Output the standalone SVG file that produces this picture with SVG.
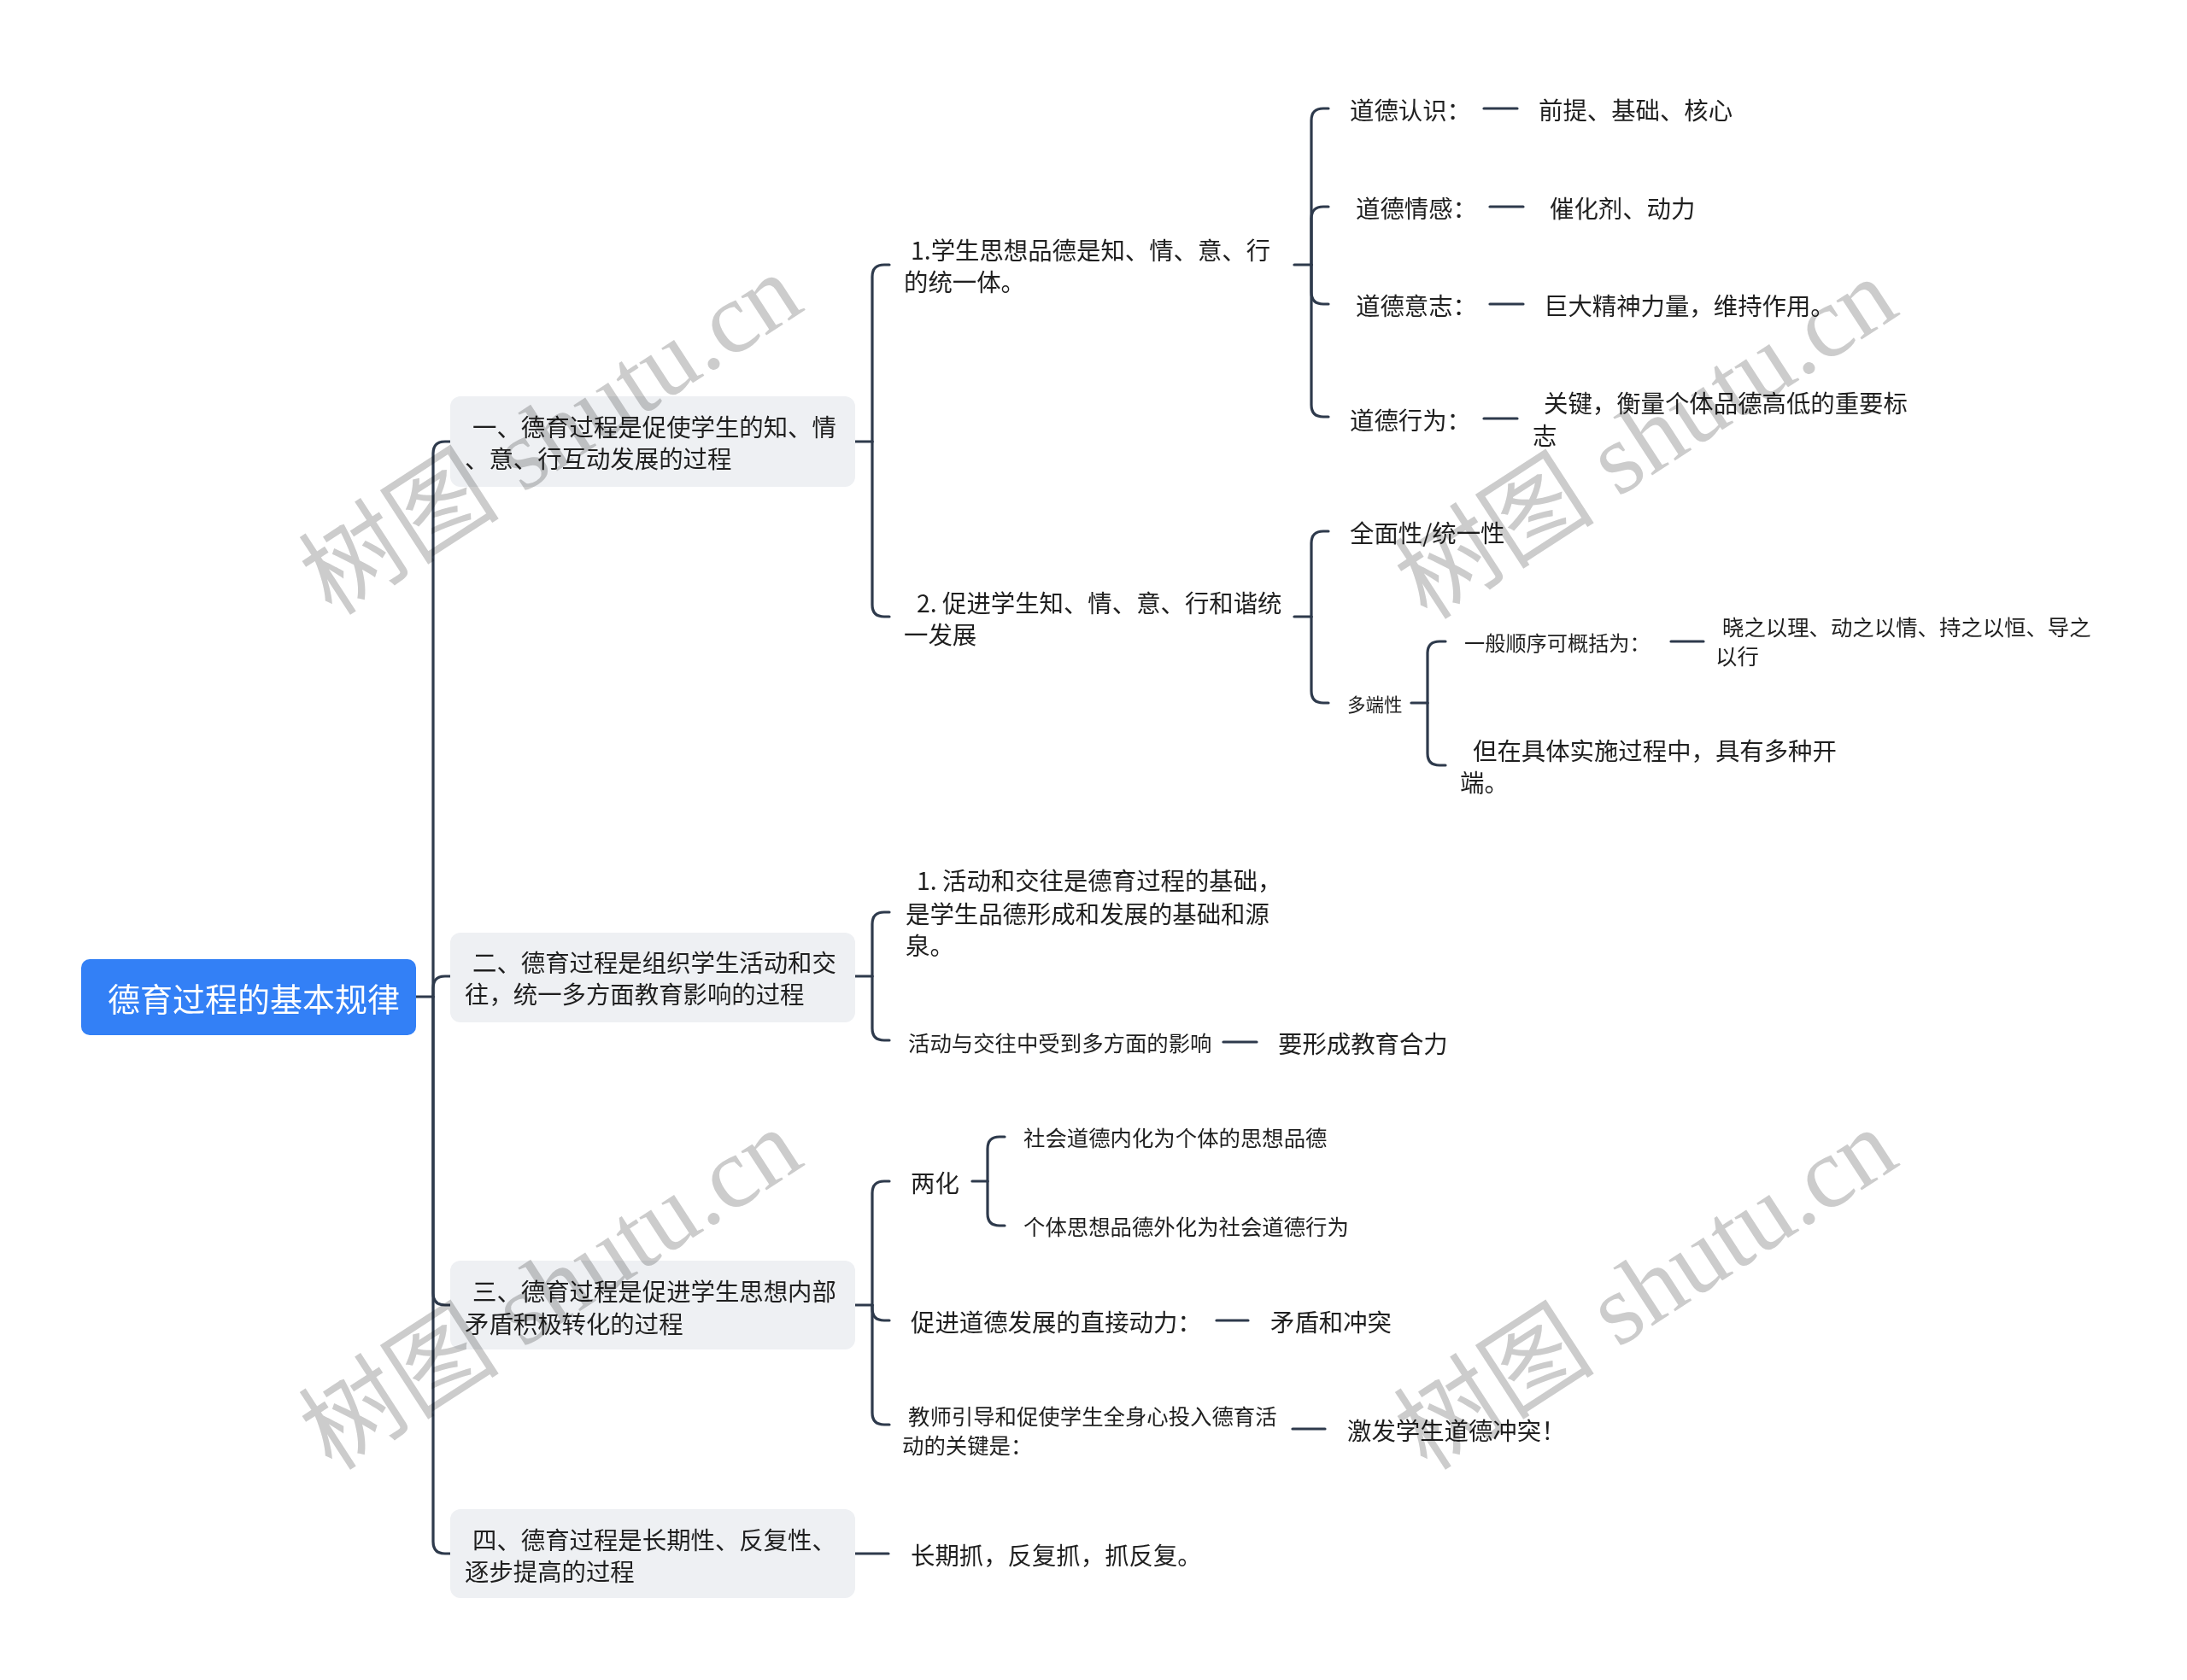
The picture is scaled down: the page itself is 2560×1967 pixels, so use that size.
<svg xmlns="http://www.w3.org/2000/svg" width="2560" height="1967" viewBox="0 0 2560 1967">
<style>
text{font-family:"Noto Sans CJK SC","Noto Sans",sans-serif;fill:#1f1f1f;dominant-baseline:central}
.t28{font-size:28.4px}
.t25{font-size:25.4px}
.t24{font-size:24.2px}
.t21{font-size:21.5px}
.root{font-size:38px;fill:#ffffff;text-anchor:middle}
.box{fill:#eef0f3}
.c path,.c line{fill:none;stroke:#2e3a4c;stroke-width:3.2;stroke-linecap:round}
.wm{font-family:"Liberation Serif","Noto Sans CJK SC",serif;font-size:118px;fill:#cccccc;text-anchor:middle;mix-blend-mode:multiply}
</style>
<rect width="2560" height="1967" fill="#ffffff"/>
<g id="connectors" class="c">
<line x1="487" y1="1167" x2="507" y2="1167"/>
<path d="M507,1167 V531 Q507,517 521,517 H527"/>
<path d="M507,1167 V1157 Q507,1143 521,1143 H527"/>
<path d="M507,1167 V1514 Q507,1528 521,1528 H527"/>
<path d="M507,1167 V1805 Q507,1819 521,1819 H527"/>
<line x1="1001" y1="517" x2="1021" y2="517"/>
<path d="M1021,517 V324 Q1021,310 1035,310 H1041"/>
<path d="M1021,517 V708 Q1021,722 1035,722 H1041"/>
<line x1="1515" y1="310" x2="1535" y2="310"/>
<path d="M1535,310 V141 Q1535,127 1549,127 H1555"/>
<path d="M1535,310 V256 Q1535,242 1549,242 H1555"/>
<path d="M1535,310 V342 Q1535,356 1549,356 H1555"/>
<path d="M1535,310 V474 Q1535,488 1549,488 H1555"/>
<line x1="1737" y1="127" x2="1776" y2="127"/>
<line x1="1744" y1="242" x2="1783" y2="242"/>
<line x1="1744" y1="356" x2="1783" y2="356"/>
<line x1="1737" y1="490" x2="1776" y2="490"/>
<line x1="1515" y1="722" x2="1535" y2="722"/>
<path d="M1535,722 V636 Q1535,622 1549,622 H1555"/>
<path d="M1535,722 V809 Q1535,823 1549,823 H1555"/>
<line x1="1652" y1="823" x2="1671" y2="823"/>
<path d="M1671,823 V765 Q1671,751 1685,751 H1692"/>
<path d="M1671,823 V882 Q1671,896 1685,896 H1692"/>
<line x1="1956" y1="751" x2="1994" y2="751"/>
<line x1="1001" y1="1143" x2="1021" y2="1143"/>
<path d="M1021,1143 V1082 Q1021,1068 1035,1068 H1041"/>
<path d="M1021,1143 V1204 Q1021,1218 1035,1218 H1041"/>
<line x1="1432" y1="1220" x2="1471" y2="1220"/>
<line x1="1001" y1="1528" x2="1021" y2="1528"/>
<path d="M1021,1528 V1397 Q1021,1383 1035,1383 H1041"/>
<path d="M1021,1528 V1532 Q1021,1546 1035,1546 H1041"/>
<path d="M1021,1528 V1654 Q1021,1668 1035,1668 H1041"/>
<line x1="1138" y1="1383" x2="1156" y2="1383"/>
<path d="M1156,1383 V1345 Q1156,1331 1170,1331 H1176"/>
<path d="M1156,1383 V1421 Q1156,1435 1170,1435 H1176"/>
<line x1="1424" y1="1546" x2="1461" y2="1546"/>
<line x1="1513" y1="1673" x2="1551" y2="1673"/>
<line x1="1001" y1="1819" x2="1040" y2="1819"/>
</g>
<g id="root">
<rect x="95" y="1123" width="392" height="89" rx="10" fill="#3380f6"/>
<text class="root" x="297" y="1167">德育过程的基本规律</text>
</g>
<g id="n1">
<rect class="box" x="527" y="464" width="474" height="106" rx="12"/>
<text class="t28" x="553" y="498">一、德育过程是促使学生的知、情</text>
<text class="t28" x="544" y="535">、意、行互动发展的过程</text>
</g>
<g id="n1-1">
<text class="t28" x="1066" y="291">1.学生思想品德是知、情、意、行</text>
<text class="t28" x="1058" y="328">的统一体。</text>
</g>
<g id="n1-1-1"><text class="t28" x="1580" y="127">道德认识：</text></g>
<g id="n1-1-1a"><text class="t28" x="1801" y="127">前提、基础、核心</text></g>
<g id="n1-1-2"><text class="t28" x="1587" y="242">道德情感：</text></g>
<g id="n1-1-2a"><text class="t28" x="1814" y="242">催化剂、动力</text></g>
<g id="n1-1-3"><text class="t28" x="1587" y="356">道德意志：</text></g>
<g id="n1-1-3a"><text class="t28" x="1807" y="356">巨大精神力量，维持作用。</text></g>
<g id="n1-1-4"><text class="t28" x="1580" y="490">道德行为：</text></g>
<g id="n1-1-4a">
<text class="t28" x="1807" y="470">关键，衡量个体品德高低的重要标</text>
<text class="t28" x="1794" y="508">志</text>
</g>
<g id="n1-2">
<text class="t28" x="1073" y="704">2. 促进学生知、情、意、行和谐统</text>
<text class="t28" x="1058" y="741">一发展</text>
</g>
<g id="n1-2-1"><text class="t28" x="1580" y="622">全面性/统一性</text></g>
<g id="n1-2-2"><text class="t21" x="1577" y="823">多端性</text></g>
<g id="n1-2-2-1"><text class="t24" x="1714" y="751">一般顺序可概括为：</text></g>
<g id="n1-2-2-1a">
<text class="t25" x="2016" y="733">晓之以理、动之以情、持之以恒、导之</text>
<text class="t25" x="2008" y="767">以行</text>
</g>
<g id="n1-2-2-2">
<text class="t28" x="1724" y="877">但在具体实施过程中，具有多种开</text>
<text class="t28" x="1709" y="914">端。</text>
</g>
<g id="n2">
<rect class="box" x="527" y="1092" width="474" height="105" rx="12"/>
<text class="t28" x="553" y="1125">二、德育过程是组织学生活动和交</text>
<text class="t28" x="544" y="1162">往，统一多方面教育影响的过程</text>
</g>
<g id="n2-1">
<text class="t28" x="1073" y="1029">1. 活动和交往是德育过程的基础，</text>
<text class="t28" x="1060" y="1068">是学生品德形成和发展的基础和源</text>
<text class="t28" x="1060" y="1105">泉。</text>
</g>
<g id="n2-2"><text class="t25" x="1063" y="1220">活动与交往中受到多方面的影响</text></g>
<g id="n2-2a"><text class="t28" x="1496" y="1220">要形成教育合力</text></g>
<g id="n3">
<rect class="box" x="527" y="1476" width="474" height="104" rx="12"/>
<text class="t28" x="553" y="1510">三、德育过程是促进学生思想内部</text>
<text class="t28" x="544" y="1548">矛盾积极转化的过程</text>
</g>
<g id="n3-1"><text class="t28" x="1066" y="1383">两化</text></g>
<g id="n3-1-1"><text class="t25" x="1198" y="1331">社会道德内化为个体的思想品德</text></g>
<g id="n3-1-2"><text class="t25" x="1198" y="1435">个体思想品德外化为社会道德行为</text></g>
<g id="n3-2"><text class="t28" x="1066" y="1546">促进道德发展的直接动力：</text></g>
<g id="n3-2a"><text class="t28" x="1487" y="1546">矛盾和冲突</text></g>
<g id="n3-3">
<text class="t25" x="1063" y="1657">教师引导和促使学生全身心投入德育活</text>
<text class="t25" x="1056" y="1691">动的关键是：</text>
</g>
<g id="n3-3a"><text class="t28" x="1577" y="1673">激发学生道德冲突！</text></g>
<g id="n4">
<rect class="box" x="527" y="1767" width="474" height="104" rx="12"/>
<text class="t28" x="553" y="1801">四、德育过程是长期性、反复性、</text>
<text class="t28" x="544" y="1838">逐步提高的过程</text>
</g>
<g id="n4-1"><text class="t28" x="1066" y="1819">长期抓，反复抓，抓反复。</text></g>
<g id="watermarks">
<text class="wm" transform="translate(645,509) rotate(-33)">树图 shutu.cn</text>
<text class="wm" transform="translate(1927,514) rotate(-33)">树图 shutu.cn</text>
<text class="wm" transform="translate(645,1510) rotate(-33)">树图 shutu.cn</text>
<text class="wm" transform="translate(1927,1510) rotate(-33)">树图 shutu.cn</text>
</g>
</svg>
